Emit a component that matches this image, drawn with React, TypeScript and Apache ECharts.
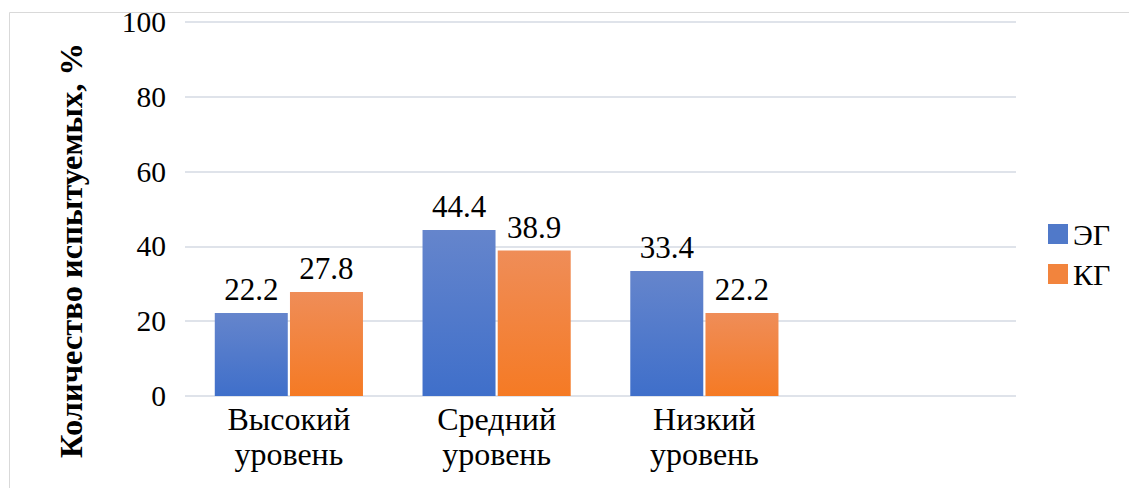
import React, { useEffect, useRef } from "react";
import * as echarts from "echarts";

const categories = ["Высокий\nуровень", "Средний\nуровень", "Низкий\nуровень", ""];
const egValues = [22.2, 44.4, 33.4, null];
const kgValues = [27.8, 38.9, 22.2, null];
const seriesNames = ["ЭГ", "КГ"];
const yTicks = { min: 0, max: 100, interval: 20 };
const yTitle = "Количество испытуемых, %";

const FONT = "Liberation Serif";

export default function App() {
  const ref = useRef<HTMLDivElement>(null);
  useEffect(() => {
    if (!ref.current) return;
    const chart = echarts.init(ref.current, null, { renderer: "svg" });
    const blue = new echarts.graphic.LinearGradient(0, 0, 0, 1, [
      { offset: 0, color: "#6585cc" },
      { offset: 1, color: "#3f6fca" },
    ]);
    const orange = new echarts.graphic.LinearGradient(0, 0, 0, 1, [
      { offset: 0, color: "#ef8d58" },
      { offset: 1, color: "#f57a24" },
    ]);
    const label = {
      show: true,
      position: "top",
      distance: 8,
      fontFamily: FONT,
      fontSize: 31,
      color: "#000",
      formatter: (p: any) => Number(p.value).toFixed(1),
    };
    chart.setOption({
      animation: false,
      backgroundColor: "#ffffff",
      textStyle: { fontFamily: FONT },
      graphic: [
        {
          type: "rect",
          shape: { x: 9.5, y: 12.5, width: 1130, height: 490 },
          style: { fill: "none", stroke: "#d9d9d9", lineWidth: 1 },
          silent: true,
          z: -1,
        },
        {
          type: "text",
          x: 71,
          y: 250.5,
          rotation: Math.PI / 2,
          style: {
            text: yTitle,
            fontFamily: FONT,
            fontSize: 32.5,
            fontWeight: "bold",
            fill: "#000",
            align: "center",
            verticalAlign: "middle",
          },
          silent: true,
        },
      ],
      grid: { left: 185, right: 113, top: 22, bottom: 92, containLabel: false },
      legend: {
        orient: "vertical",
        left: 1048,
        top: 219,
        padding: 0,
        itemWidth: 20,
        itemHeight: 20,
        itemGap: 10,
        icon: "rect",
        textStyle: { fontFamily: FONT, fontSize: 30, lineHeight: 30, color: "#000" },
        data: [
          { name: seriesNames[0], itemStyle: { color: "#5079c9" } },
          { name: seriesNames[1], itemStyle: { color: "#f2843d" } },
        ],
      },
      xAxis: {
        type: "category",
        data: categories,
        axisLine: { show: false },
        axisTick: { show: false },
        axisLabel: {
          fontFamily: FONT,
          fontSize: 32,
          color: "#000",
          lineHeight: 35,
          margin: 5,
          verticalAlign: "top",
        },
      },
      yAxis: {
        type: "value",
        min: yTicks.min,
        max: yTicks.max,
        interval: yTicks.interval,
        axisLine: { show: false },
        axisTick: { show: false },
        axisLabel: { fontFamily: FONT, fontSize: 29.5, color: "#000", margin: 19 },
        splitLine: { lineStyle: { color: "#dfe3ea", width: 2 } },
      },
      series: [
        {
          name: seriesNames[0],
          type: "bar",
          data: egValues,
          barWidth: 73,
          barGap: "3%",
          itemStyle: { color: blue },
          label,
        },
        {
          name: seriesNames[1],
          type: "bar",
          data: kgValues,
          barWidth: 73,
          barGap: "3%",
          itemStyle: { color: orange },
          label,
        },
      ],
    });
    return () => chart.dispose();
  }, []);
  return (
    <div
      ref={ref}
      style={{ position: "fixed", left: 0, top: 0, width: 1129, height: 488 }}
    />
  );
}
